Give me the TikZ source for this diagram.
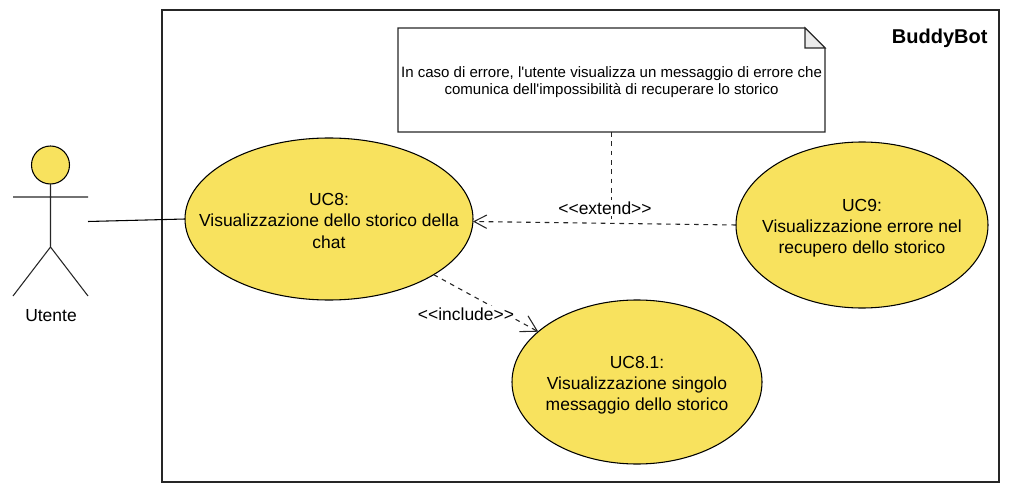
\documentclass[tikz,border=0pt]{standalone}
\usepackage{fontspec}
\setmainfont[Ligatures=TeXOff]{Liberation Sans}
\usepackage{tikz}
\usetikzlibrary{arrows.meta,shapes,calc}
\definecolor{ucyellow}{HTML}{F8E25E}

\begin{document}
\begin{tikzpicture}[x=.75pt,y=-.75pt,>={Straight Barb[length=9.5pt,width=10pt]},
        line width=.8pt,
        usecase/.style={ellipse,draw=black,fill=ucyellow,align=center,inner sep=-30pt,outer sep=0,font=\fontsize{13.1}{16}\selectfont},
        deplabel/.style={fill=white,inner sep=1pt,font=\fontsize{13.1}{15}\selectfont},
        dep/.style={dash pattern=on 3.5pt off 3.5pt,draw=black!85}]
        \useasboundingbox (0,0) rectangle (1014,492);
        \node[draw=black!85,minimum width=627.75pt,minimum height=354pt,inner sep=0,outer sep=0] (system) at (580.5,246) {};
        \node[anchor=north east,inner sep=0,font=\fontsize{15}{18}\selectfont\bfseries] (title) at (988,28) {BuddyBot};
        % actor
        \node[circle,draw=black,fill=ucyellow,minimum size=28.5pt,inner sep=0,outer sep=0] (head) at (50.5,165) {};
        \coordinate (hip) at (50.5,247);
        \coordinate (armL) at (13,197);
        \coordinate (armR) at (88,197);
        \coordinate (footL) at (13,296);
        \coordinate (footR) at (88,296);
        \coordinate (hand) at (88,221.5);
        \draw[draw=black!85] (head) -- (hip) (armL) -- (armR) (footL) -- (hip) -- (footR);
        \node[font=\fontsize{13.1}{15}\selectfont] (utente) at (51,316) {Utente};
        % use cases
        \node[usecase,minimum width=216pt,minimum height=121.5pt] (uc8) at (329,219)
          {\rule{0pt}{11.7pt}UC8:\\Visualizzazione dello storico della\\chat};
        \node[usecase,minimum width=189pt,minimum height=124.5pt] (uc9) at (862,225)
          {\rule{0pt}{14pt}UC9:\\Visualizzazione errore nel\\recupero dello storico};
        \node[usecase,minimum width=187.5pt,minimum height=123pt] (uc81) at (637,382)
          {\rule{0pt}{14pt}UC8.1:\\Visualizzazione singolo\\messaggio dello storico};
        % note
        \node[align=center,minimum width=320.25pt,minimum height=78pt,inner sep=0,outer sep=0,font=\fontsize{11.28}{13}\selectfont] (note) at (611.5,80)
          {\rule{0pt}{11pt}In caso di errore, l'utente visualizza un messaggio di errore che\\comunica dell'impossibilità di recuperare lo storico};
        \coordinate (foldT) at ($(note.north east)+(-20,0)$);
        \coordinate (foldR) at ($(note.north east)+(0,20)$);
        \coordinate (foldC) at ($(note.north east)+(-20,20)$);
        \draw[draw=black!85] (note.north west) -- (foldT) -- (foldR) -- (note.south east) -- (note.south west) -- cycle;
        \draw[draw=black!85,fill=black!8] (foldT) -- (foldR) -- (foldC) -- cycle;
        % connectors
        \draw (hand) -- (uc8.west);
        \coordinate (noteEnd) at (note.south |- uc8.east);
        \draw[dep] (note.south) -- (noteEnd);
        \draw[dep,->] (uc9.west) -- (uc8.-1);
        \draw[dep,-{Straight Barb[length=11.7pt,width=13.5pt]}] (uc8.-28) -- (uc81.153);
        \node[deplabel] (extendlabel) at (605,208) {<<extend>>};
        \node[deplabel] (includelabel) at (466,314) {<<include>>};
\end{tikzpicture}
\end{document}
